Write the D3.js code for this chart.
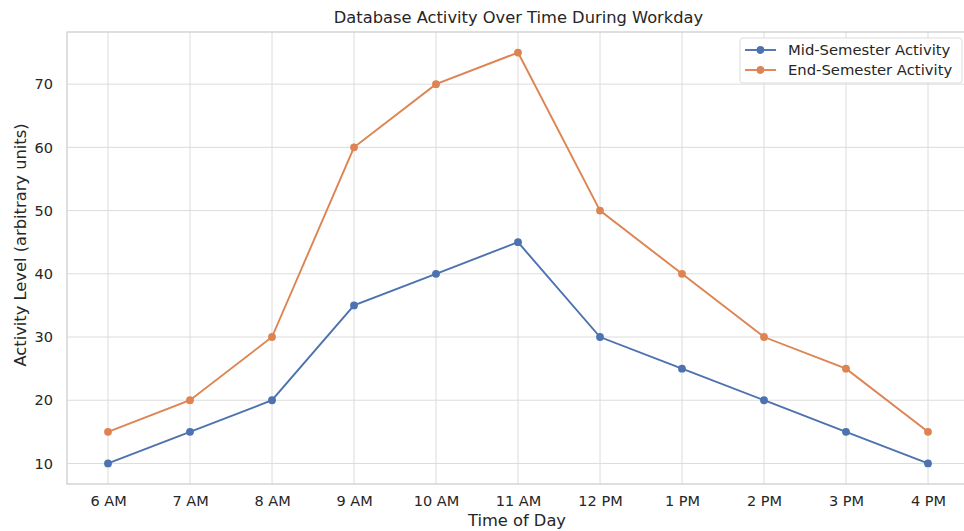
<!DOCTYPE html>
<html><head><meta charset="utf-8">
<script src="https://cdn.jsdelivr.net/npm/d3@7"></script>
<style>body{margin:0;background:#fff;overflow:hidden}text{font-family:"DejaVu Sans",sans-serif;fill:#262626}</style>
</head><body><svg id="c" width="964" height="531"></svg>
<script>
const categories = ["6 AM","7 AM","8 AM","9 AM","10 AM","11 AM","12 PM","1 PM","2 PM","3 PM","4 PM"];
const midSemester = [10,15,20,35,40,45,30,25,20,15,10];
const endSemester = [15,20,30,60,70,75,50,40,30,25,15];
const yTicks = [10,20,30,40,50,60,70];
const seriesNames = ["Mid-Semester Activity","End-Semester Activity"];
const colors = ["#4c72b0","#dd8452"];

const svg = d3.select("#c");
const L=67, R=969, T=32, B=484;
const x = d3.scaleLinear().domain([-0.5, categories.length-0.5]).range([L,R]);
const yMin=6.75, yMax=78.25;
const y = d3.scaleLinear().domain([yMin,yMax]).range([B,T]);

const g = svg.append("g");
g.selectAll(".vg").data(categories).enter().append("line")
 .attr("x1",(d,i)=>x(i)).attr("x2",(d,i)=>x(i)).attr("y1",T).attr("y2",B)
 .attr("stroke","#dcdcdc").attr("stroke-width",1);
g.selectAll(".hg").data(yTicks).enter().append("line")
 .attr("x1",L).attr("x2",R).attr("y1",d=>y(d)).attr("y2",d=>y(d))
 .attr("stroke","#dcdcdc").attr("stroke-width",1);
g.append("rect").attr("x",L).attr("y",T).attr("width",R-L).attr("height",B-T)
 .attr("fill","none").attr("stroke","#cccccc").attr("stroke-width",1.25);

const xAxis = d3.axisBottom(x).tickValues(d3.range(categories.length)).tickFormat(i=>categories[i]).tickSize(0).tickPadding(12);
const xa = svg.append("g").attr("transform",`translate(0,${B})`).call(xAxis);
xa.select(".domain").remove();
xa.selectAll("text").style("font-size","14.5px").attr("fill","#262626");
const yAxis = d3.axisLeft(y).tickValues(yTicks).tickSize(0).tickPadding(14);
const ya = svg.append("g").attr("transform",`translate(${L},0)`).call(yAxis);
ya.select(".domain").remove();
ya.selectAll("text").style("font-size","14.5px").attr("fill","#262626");

[midSemester,endSemester].forEach((data,k)=>{
  const line = d3.line().x((d,i)=>x(i)).y(d=>y(d));
  svg.append("path").datum(data).attr("d",line).attr("fill","none")
    .attr("stroke",colors[k]).attr("stroke-width",1.9);
  svg.selectAll(".m"+k).data(data).enter().append("circle")
    .attr("cx",(d,i)=>x(i)).attr("cy",d=>y(d)).attr("r",3.9).attr("fill",colors[k]);
});

svg.append("text").attr("x",518.5).attr("y",23).attr("text-anchor","middle")
  .style("font-size","16.3px").text("Database Activity Over Time During Workday");
svg.append("text").attr("x",517).attr("y",526).attr("text-anchor","middle")
  .style("font-size","16.3px").text("Time of Day");
svg.append("text").attr("transform","translate(26,245) rotate(-90)").attr("text-anchor","middle")
  .style("font-size","16.3px").text("Activity Level (arbitrary units)");

const lg = svg.append("g");
lg.append("rect").attr("x",740).attr("y",38).attr("width",222).attr("height",45).attr("rx",3)
  .attr("fill","#fff").attr("fill-opacity",0.8).attr("stroke","#dcdcdc");
seriesNames.forEach((n,k)=>{
  const yy = 50 + k*20;
  lg.append("line").attr("x1",745).attr("x2",776).attr("y1",yy).attr("y2",yy)
    .attr("stroke",colors[k]).attr("stroke-width",1.9);
  lg.append("circle").attr("cx",760.5).attr("cy",yy).attr("r",3.9).attr("fill",colors[k]);
  lg.append("text").attr("x",788).attr("y",yy+5).style("font-size","14.8px").text(n);
});
</script></body></html>
